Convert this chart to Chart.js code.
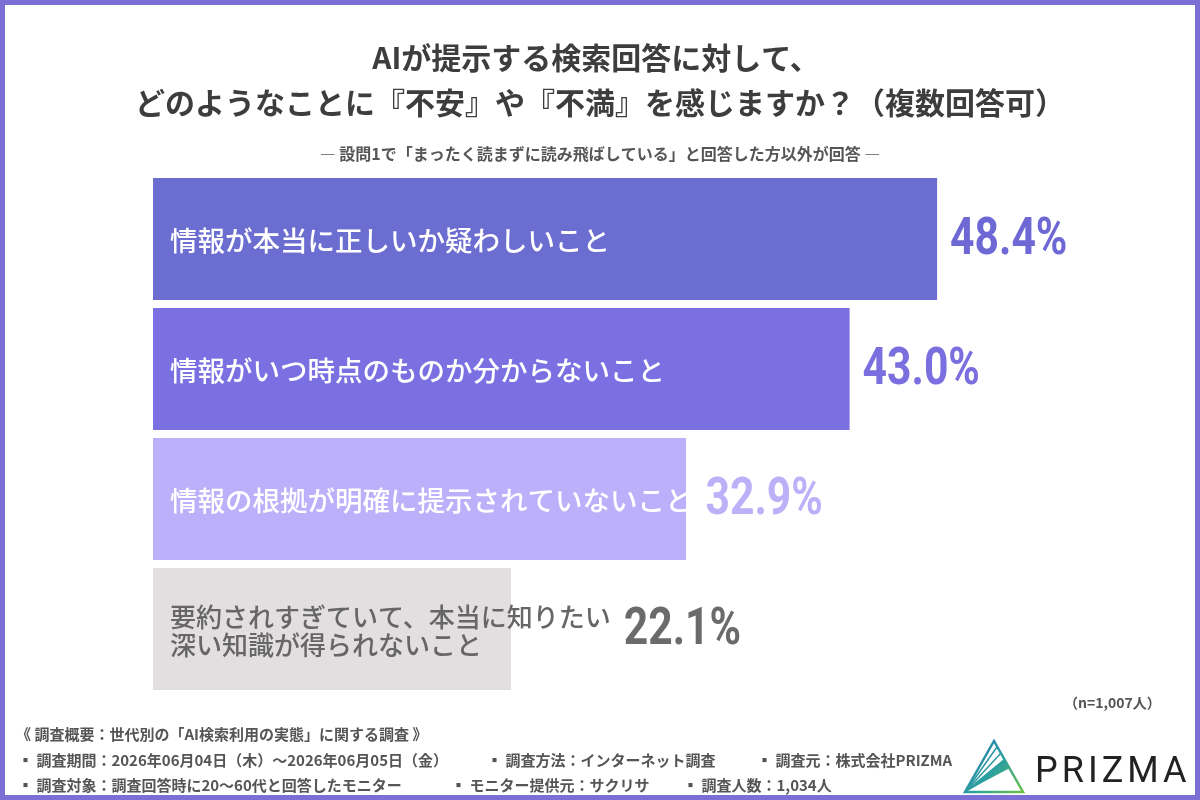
<!DOCTYPE html>
<html><head><meta charset="utf-8">
<script src="https://cdn.jsdelivr.net/npm/chart.js@4.4.1/dist/chart.umd.min.js"></script>
<style>html,body{margin:0;padding:0;background:#fff;}canvas{display:block;}</style>
</head><body>
<canvas id="c" width="1200" height="800"></canvas>
<script>
const categories = [
  ['情報が本当に正しいか疑わしいこと'],
  ['情報がいつ時点のものか分からないこと'],
  ['情報の根拠が明確に提示されていないこと'],
  ['要約されすぎていて、本当に知りたい', '深い知識が得られないこと']
];
const values = [48.4, 43.0, 32.9, 22.1];
const valueLabels = ['48.4%', '43.0%', '32.9%', '22.1%'];
const barColors = ['#6b6dd0', '#7b70e2', '#bdb0fb', '#e3dfe0'];
const labelColors = ['#ffffff', '#ffffff', '#ffffff', '#666666'];
const valueColors = ['#6e68d4', '#7b6fe0', '#bcb0f8', '#6b6b6b'];
const titleLines = ['AIが提示する検索回答に対して、', 'どのようなことに『不安』や『不満』を感じますか？（複数回答可）'];
const subtitleText = '― 設問1で「まったく読まずに読み飛ばしている」と回答した方以外が回答 ―';
const sampleNote = '（n=1,007人）';
const footerHead = '《 調査概要：世代別の「AI検索利用の実態」に関する調査 》';
const footerRow1 = ['▪ 調査期間：2026年06月04日（木）〜2026年06月05日（金）', '▪ 調査方法：インターネット調査', '▪ 調査元：株式会社PRIZMA'];
const footerRow2 = ['▪ 調査対象：調査回答時に20〜60代と回答したモニター', '▪ モニター提供元：サクリサ', '▪ 調査人数：1,034人'];
const brandName = 'PRIZMA';

const JP = '"Noto Sans CJK JP", "Noto Sans", sans-serif';

const decor = {
  id: 'decor',
  beforeDraw(chart) {
    const ctx = chart.ctx;
    ctx.save();
    ctx.fillStyle = '#ffffff';
    ctx.fillRect(0, 0, 1200, 800);
    ctx.restore();
  },
  afterDraw(chart) {
    const ctx = chart.ctx;
    ctx.save();
    // border
    ctx.strokeStyle = '#7b6fd6';
    ctx.lineWidth = 5;
    ctx.strokeRect(2.5, 2.5, 1195, 795);
    // title
    ctx.fillStyle = '#3d3d3d';
    ctx.textAlign = 'center';
    ctx.textBaseline = 'middle';
    ctx.font = 'bold 30px ' + JP;
    ctx.fillText(titleLines[0], 596, 58);
    ctx.fillText(titleLines[1], 600, 103);
    ctx.fillStyle = '#555555';
    ctx.font = 'bold 16px ' + JP;
    ctx.fillText(subtitleText, 600, 154);
    // n note
    ctx.textAlign = 'left';
    ctx.font = 'bold 14px ' + JP;
    ctx.fillText(sampleNote, 1064, 703);
    // footer
    ctx.font = 'bold 15px ' + JP;
    ctx.fillText(footerHead, 16, 734);
    const x1 = [18, 487, 757];
    const x2 = [18, 451, 683];
    footerRow1.forEach((t, i) => ctx.fillText(t, x1[i], 760));
    footerRow2.forEach((t, i) => ctx.fillText(t, x2[i], 785));
    // logo triangle
    const g = ctx.createLinearGradient(970, 740, 1023, 792);
    g.addColorStop(0, '#2a78b0');
    g.addColorStop(0.5, '#2a9fa0');
    g.addColorStop(1, '#6cc24a');
    ctx.strokeStyle = g;
    ctx.lineWidth = 2.5;
    ctx.beginPath();
    ctx.moveTo(994, 741); ctx.lineTo(1023, 792); ctx.lineTo(965, 792); ctx.closePath();
    ctx.stroke();
    ctx.lineWidth = 1.5;
    [[997, 747], [1001, 753], [1005, 759], [1009, 766]].forEach(p => {
      ctx.beginPath(); ctx.moveTo(966, 791); ctx.lineTo(p[0], p[1]); ctx.stroke();
    });
    ctx.fillStyle = g;
    ctx.beginPath(); ctx.moveTo(966, 791); ctx.lineTo(1005, 759); ctx.lineTo(1010, 768); ctx.closePath(); ctx.fill();
    // brand text
    ctx.fillStyle = '#222222';
    ctx.font = '400 36px Roboto, sans-serif';
    ctx.textBaseline = 'alphabetic';
    try { ctx.letterSpacing = '4px'; } catch (e) {}
    ctx.fillText(brandName, 1035, 782);
    ctx.restore();
  }
};

const barLabels = {
  id: 'barLabels',
  afterDatasetsDraw(chart) {
    const ctx = chart.ctx;
    const meta = chart.getDatasetMeta(0);
    meta.data.forEach((bar, i) => {
      const lines = categories[i];
      ctx.save();
      ctx.font = (lines.length > 1 ? '500 26px ' : '500 27.5px ') + JP;
      ctx.fillStyle = labelColors[i];
      ctx.textAlign = 'left';
      ctx.textBaseline = 'middle';
      const lh = 28;
      const startY = bar.y + 2 - (lines.length - 1) * lh / 2;
      let maxW = 0;
      lines.forEach((ln, k) => {
        ctx.fillText(ln, bar.base + 17, startY + k * lh);
        maxW = Math.max(maxW, ctx.measureText(ln).width);
      });
      const textEnd = bar.base + 17 + maxW;
      const vx = Math.max(bar.x, textEnd) + 13;
      ctx.font = 'bold 52px Roboto, sans-serif';
      ctx.fillStyle = valueColors[i];
      ctx.translate(vx, bar.y + 2);
      ctx.scale(0.82, 1);
      ctx.fillText(valueLabels[i], 0, 0);
      ctx.restore();
    });
  }
};

new Chart(document.getElementById('c'), {
  type: 'bar',
  data: {
    labels: categories.map(c => c.join('')),
    datasets: [{
      data: values,
      backgroundColor: barColors,
      borderWidth: 0,
      barPercentage: 1,
      categoryPercentage: 0.94
    }]
  },
  options: {
    indexAxis: 'y',
    responsive: false,
    animation: false,
    devicePixelRatio: 1,
    layout: { padding: { left: 153, right: 75, top: 174, bottom: 106 } },
    scales: {
      x: { display: false, min: 0, max: 60 },
      y: { display: false }
    },
    plugins: { legend: { display: false }, tooltip: { enabled: false }, title: { display: false } }
  },
  plugins: [decor, barLabels]
});
</script>
</body></html>
